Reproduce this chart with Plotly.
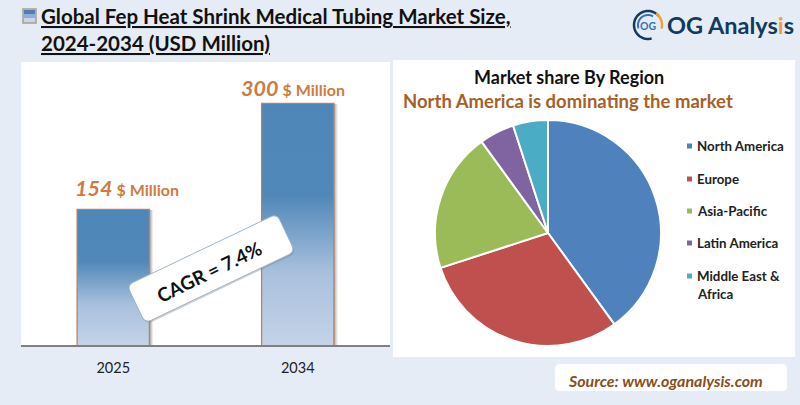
import numpy as np
import plotly.graph_objects as go

years = ['2025', '2034']
market_size = [154, 300]
regions = ['North America', 'Europe', 'Asia-Pacific', 'Latin America', 'Middle East & Africa']
region_share = [40, 30, 20, 5, 5]
region_colors = ['#4F81BD', '#C0504D', '#9BBB59', '#8064A2', '#4BACC6']
legend_rows = [146, 179, 211, 243, 276]
label_shift = [14, -5]
label_lift = [6, 0]

W, H = 800, 405
FONT = 'Lato'
ORANGE = '#CF7B3F'
# the drawn bars do not start at zero in the original
AXIS_FLOOR = -32
BAR_W = 0.385
x_pos = [0, 1]


def px(x):
    return x / W


def py(y):
    return 1 - y / H


def rect(x0, y0, x1, y1, fill, line=None, layer='below', width=1):
    return dict(type='rect', xref='paper', yref='paper', x0=px(x0), x1=px(x1), y0=py(y0), y1=py(y1),
                fillcolor=fill, line=dict(color=line, width=width if line else 0), layer=layer)


def round_path(cx, cy, w, h, r, angle=0):
    # rounded rectangle, rotated about its centre
    a = np.radians(angle)

    def p(x, y):
        xr = cx + x * np.cos(a) - y * np.sin(a)
        yr = cy + x * np.sin(a) + y * np.cos(a)
        return f'{px(xr):.5f},{py(yr):.5f}'
    hw, hh = w / 2, h / 2
    return (f'M{p(-hw + r, -hh)} L{p(hw - r, -hh)} Q{p(hw, -hh)} {p(hw, -hh + r)} '
            f'L{p(hw, hh - r)} Q{p(hw, hh)} {p(hw - r, hh)} L{p(-hw + r, hh)} '
            f'Q{p(-hw, hh)} {p(-hw, hh - r)} L{p(-hw, -hh + r)} Q{p(-hw, -hh)} {p(-hw + r, -hh)} Z')


def arc_path(cx, cy, r, start, end):
    t = np.radians(np.linspace(start, end, 40))
    pts = [f'{px(cx + r * np.cos(v)):.5f},{py(cy + r * np.sin(v)):.5f}' for v in t]
    return 'M' + ' L'.join(pts)


def note(x, y, text, size, color='#111111', anchor='left', **kw):
    return dict(xref='paper', yref='paper', x=px(x), y=py(y), text=text, showarrow=False,
                xanchor=anchor, yanchor='middle', align='left',
                font=dict(family=FONT, size=size, color=color), **kw)


fig = go.Figure()

heights = [v - AXIS_FLOOR for v in market_size]

# soft shadow to the right of the bars
for shift, alpha in [(0.024, 0.12), (0.017, 0.2), (0.010, 0.3)]:
    fig.add_trace(go.Bar(x=x_pos, y=heights, base=AXIS_FLOOR, width=BAR_W, offset=-BAR_W / 2 + shift,
                         marker=dict(color=f'rgba(90,90,90,{alpha})', line=dict(width=0)),
                         hoverinfo='skip', showlegend=False))

# gradient fill
for x, v in zip(x_pos, market_size):
    fig.add_trace(go.Scatter(x=[x - BAR_W / 2, x + BAR_W / 2, x + BAR_W / 2, x - BAR_W / 2],
                             y=[AXIS_FLOOR, AXIS_FLOOR, v, v], mode='none', fill='toself',
                             fillgradient=dict(type='vertical',
                                               colorscale=[[0, '#C4D3E8'], [0.3, '#A9C0DD'],
                                                           [0.62, '#5088B9'], [1, '#4F86B8']]),
                             hoverinfo='skip', showlegend=False))

fig.add_trace(go.Bar(x=x_pos, y=heights, base=AXIS_FLOOR, width=BAR_W,
                     marker=dict(color='rgba(0,0,0,0)', line=dict(color='#C07F58', width=2.5)),
                     hovertemplate='%{customdata}<extra></extra>', customdata=market_size,
                     showlegend=False))

fig.add_trace(go.Pie(labels=regions, values=region_share, sort=False, direction='clockwise', rotation=0,
                     marker=dict(colors=region_colors, line=dict(color='white', width=2)),
                     textinfo='none', showlegend=False,
                     domain=dict(x=[px(435), px(661)], y=[py(346), py(120)])))

shapes = [
    rect(21, 62, 390, 345, 'white'),
    rect(393, 60, 795, 357, 'white'),
    dict(type='path', xref='paper', yref='paper', path=round_path(671, 377.5, 232, 27, 5),
         fillcolor='white', line=dict(width=0), layer='below'),
    # title icon
    rect(23, 9, 36, 23, '#C9D6E8', '#A99C94', width=1.5),
    rect(24, 10, 35, 14, '#4F7FB0'),
    rect(24, 14, 35, 18, '#8FB0D4'),
    # CAGR label
    dict(type='path', xref='paper', yref='paper', path=round_path(212, 270, 166, 42, 7, -25.5),
         fillcolor='rgba(120,120,120,0.35)', line=dict(width=0), layer='above'),
    dict(type='path', xref='paper', yref='paper', path=round_path(211, 268.5, 166, 42, 7, -25.5),
         fillcolor='white', line=dict(color='#9FB4C4', width=1), layer='above'),
    # logo rings
    dict(type='path', xref='paper', yref='paper', path=arc_path(648, 25, 14, 75, 320),
         line=dict(color='#12395F', width=2.5), layer='above'),
    dict(type='path', xref='paper', yref='paper', path=arc_path(648, 25, 14, -55, 15),
         line=dict(color='#E8A33D', width=2.5), layer='above'),
    dict(type='path', xref='paper', yref='paper', path=arc_path(648, 25, 10, 160, 300),
         line=dict(color='#2F74B5', width=2), layer='above'),
]

annotations = [
    note(39, 16, '<u><b>Global Fep Heat Shrink Medical Tubing Market Size,</b></u>', 20.5),
    note(39, 43, '<u><b>2024-2034 (USD Million)</b></u>', 20.5),
    note(648, 25.5, '<b>OG</b>', 10.5, '#2F74B5', anchor='center'),
    note(665, 25, '<b>OG Analys<span style="color:#E8A33D">i</span>s</b>', 23.5, '#12395F'),
    note(568.5, 77, '<b>Market share By Region</b>', 18, anchor='center'),
    note(567.5, 101, '<b>North America is dominating the market</b>', 18.5, '#A6602A', anchor='center'),
    note(665, 380, '<b><i>Source: www.oganalysis.com</i></b>', 16, '#8A4E1C', anchor='center'),
    dict(xref='paper', yref='paper', x=px(209), y=py(271), text='<b>CAGR = 7.4%</b>', showarrow=False,
         xanchor='center', yanchor='middle', textangle=-26,
         font=dict(family=FONT, size=19, color='#111111')),
]

for x, v, shift, lift in zip(x_pos, market_size, label_shift, label_lift):
    annotations.append(dict(xref='x', yref='y', x=x, y=v, yanchor='bottom', yshift=1 + lift, xshift=shift,
                            showarrow=False,
                            text=f'<b><i>{v}</i></b><span style="font-size:16px"> <b>$ Million</b></span>',
                            font=dict(family=FONT, size=21.5, color=ORANGE)))

for name, color, row in zip(regions, region_colors, legend_rows):
    shapes.append(rect(687, row - 2.5, 692, row + 2.5, color))
    label = name.replace('& ', '&<br>')
    if '<br>' in label:
        top, bottom = label.split('<br>')
        annotations.append(note(695, row, f'<b>{top}</b>', 13.3, '#222222'))
        annotations.append(note(695, row + 18, f'<b>{bottom}</b>', 13.3, '#222222'))
    else:
        annotations.append(note(695, row, f'<b>{label}</b>', 13.3, '#222222'))

fig.update_layout(
    width=W, height=H,
    margin=dict(l=0, r=0, t=0, b=0),
    paper_bgcolor='#E6ECF5',
    plot_bgcolor='rgba(0,0,0,0)',
    barmode='overlay',
    shapes=shapes,
    annotations=annotations,
    showlegend=False,
    xaxis=dict(domain=[px(21), px(390)], range=[-0.5, 1.5], tickvals=x_pos, ticktext=years,
               showgrid=False, zeroline=False, showline=True, linecolor='#808080', linewidth=1.5,
               ticks='', ticklen=0, ticklabelstandoff=9,
               tickfont=dict(family=FONT, size=14.5, color='#222222')),
    yaxis=dict(domain=[py(345), py(62)], range=[AXIS_FLOOR, 358], visible=False),
)

fig.write_html('out.html', config=dict(displayModeBar=False),
               post_script="document.body.style.margin='0';document.body.style.overflow='hidden';")
